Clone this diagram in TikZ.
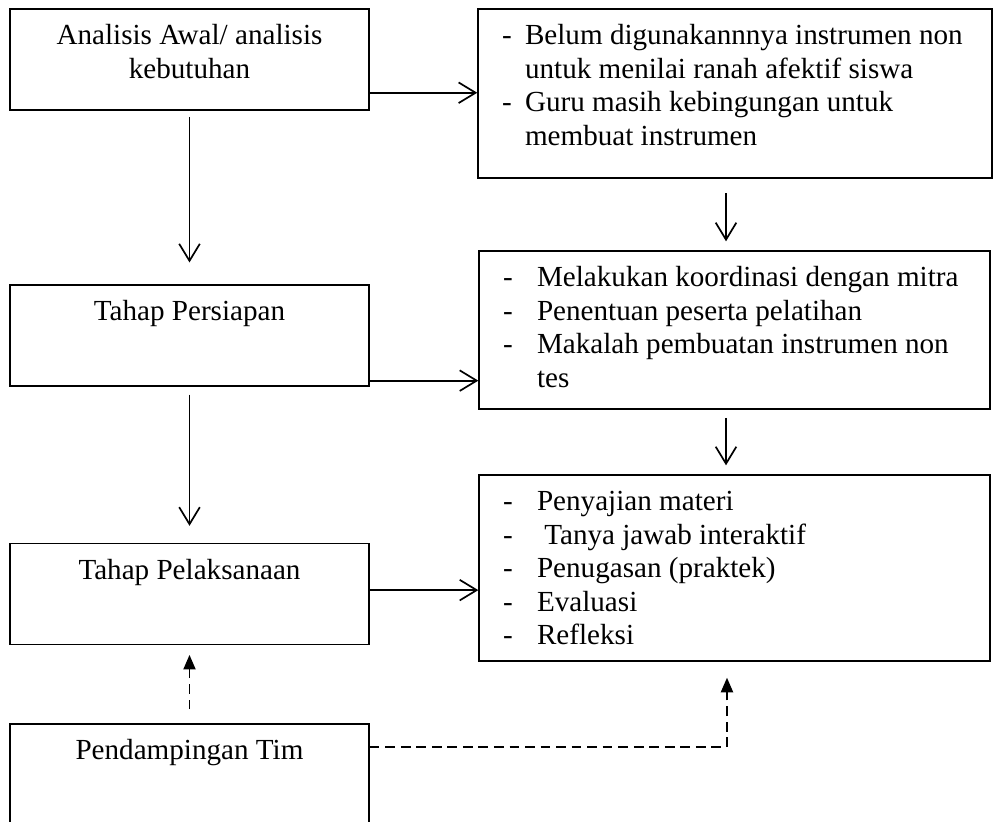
\documentclass[tikz,border=0pt]{standalone}
\usepackage{fontspec}
\setmainfont{Liberation Serif}
\usepackage{array}
\usetikzlibrary{arrows.meta, positioning}
\tikzset{>={Straight Barb[length=7pt,width=8.5pt]},
  box/.style={draw, line width=0.6pt, inner sep=0pt},
  lbox/.style={box, minimum width=147.9pt, minimum height=41.6pt},
  rbox/.style={box, minimum width=210.5pt},
  txt/.style={anchor=base, inner sep=0pt, align=center, font=\fontsize{12}{13.8}\selectfont},
  list/.style={anchor=base west, inner sep=0pt, font=\fontsize{12}{13.8}\selectfont},
  conn/.style={->, line width=0.7pt},
  dconn/.style={-{Triangle[length=6pt,width=5pt]}, dash pattern=on 4pt off 2.4pt, line width=0.7pt}}

\begin{document}
\begin{tikzpicture}[x=0.412pt, y=-0.412pt]
\useasboundingbox (0,0) rectangle (1000,821);

% left column
\node[lbox] (ana) at (189.5,59.5) {};
\node[lbox] (siap) at (189.5,335.5) {};
\node[lbox] (laks) at (189.5,594) {};
\node[lbox] (damp) at (189.5,774.5) {};

% two lines: base is the last line
\node[txt] (tana) at ([yshift=-28.8pt]ana.north) {Analisis Awal/ analisis\\kebutuhan};
\node[txt] (tsiap) at ([yshift=-15pt]siap.north) {Tahap Persiapan};
\node[txt] (tlaks) at ([yshift=-15pt]laks.north) {Tahap Pelaksanaan};
\node[txt] (tdamp) at ([yshift=-15pt]damp.north) {Pendampingan Tim};

% right column
\node[rbox, minimum width=211.8pt, minimum height=69.6pt] (masalah) at (735,93.5) {};
\node[rbox, minimum height=65.1pt] (persiapan) at (734.5,330) {};
\node[rbox, minimum height=76.6pt] (kegiatan) at (734.5,568) {};

\node[list] (tmasalah) at ([xshift=10pt, yshift=-15pt]masalah.north west)
  {\begin{tabular}[t]{@{}p{9.5pt}@{}l@{}}
   - & Belum digunakannnya instrumen non\\
     & untuk menilai ranah afektif siswa\\
   - & Guru masih kebingungan untuk\\
     & membuat instrumen
   \end{tabular}};
\node[list] (tpersiapan) at ([xshift=10pt, yshift=-15pt]persiapan.north west)
  {\begin{tabular}[t]{@{}p{14pt}@{}l@{}}
   - & Melakukan koordinasi dengan mitra\\
   - & Penentuan peserta pelatihan\\
   - & Makalah pembuatan instrumen non\\
     & tes
   \end{tabular}};
\node[list] (tkegiatan) at ([xshift=10pt, yshift=-15pt]kegiatan.north west)
  {\begin{tabular}[t]{@{}p{14pt}@{}l@{}}
   - & Penyajian materi\\
   - & \ Tanya jawab interaktif\\
   - & Penugasan (praktek)\\
   - & Evaluasi\\
   - & Refleksi
   \end{tabular}};

% arrows
\coordinate (a1) at ([yshift=7.4pt]ana.south east);
\coordinate (a2) at ([yshift=2.5pt]siap.south east);
\coordinate (a3) at ([yshift=1.6pt]laks.east);
\draw[conn] (a1) -- (a1 -| masalah.west);
\draw[conn] (a2) -- (a2 -| persiapan.west);
\draw[conn] (a3) -- (a3 -| kegiatan.west);

\draw[conn, shorten <=2.5pt, shorten >=9pt] (ana) -- (siap);
\draw[conn, shorten <=3.3pt, shorten >=7pt] (siap) -- (laks);

\coordinate (m1) at ([xshift=-3.5pt]persiapan.north);
\coordinate (m2) at ([xshift=-3.5pt]kegiatan.north);
\draw[conn, shorten <=6pt, shorten >=3.7pt] (m1 |- masalah.south) -- (m1);
\draw[conn, shorten <=3.3pt, shorten >=3.7pt] (m2 |- persiapan.south) -- (m2);

% pendampingan
\draw[dconn, shorten <=5.8pt, shorten >=4pt] (damp) -- (laks);
\coordinate (d1) at ([yshift=11.3pt]damp.east);
\coordinate (d2) at ([xshift=-3.1pt]kegiatan.south);
\draw[dconn, shorten >=6.6pt] (d1) -- (d1 -| d2) -- (d2);

\end{tikzpicture}
\end{document}
